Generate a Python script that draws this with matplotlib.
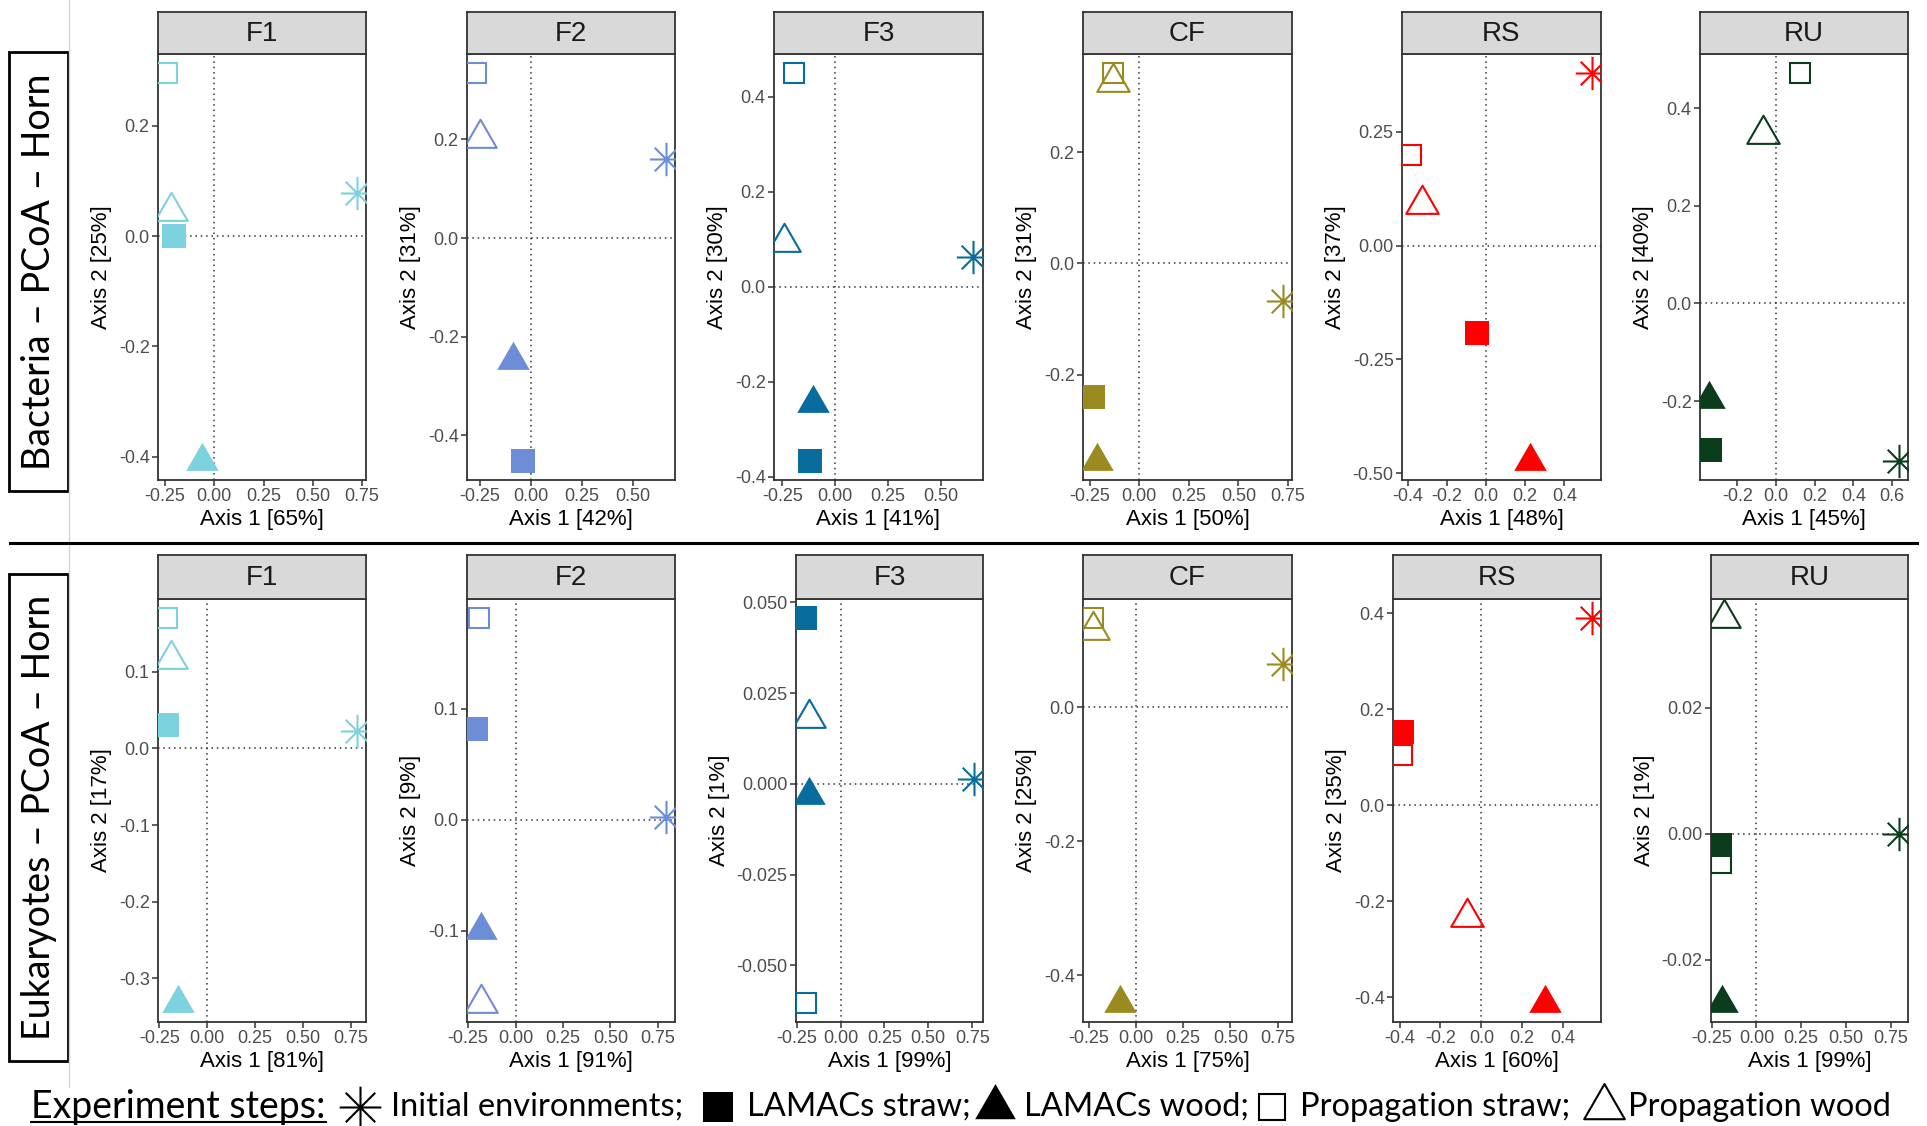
import matplotlib
matplotlib.use('Agg')
import matplotlib.pyplot as plt
from matplotlib.path import Path
from matplotlib.patches import Rectangle
import numpy as np

# ---- data -------------------------------------------------------------
panels = ["F1", "F2", "F3", "CF", "RS", "RU"]
colors = ["#7DD2DF", "#6D8ED6", "#086C9C", "#9A8A20", "#FF0000", "#0B3D1D"]
steps = ["Initial environments", "LAMACs straw", "LAMACs wood",
         "Propagation straw", "Propagation wood"]

# point order in every panel: initial, LAMACs straw, LAMACs wood, prop straw, prop wood
bac_axis1 = [[0.722, -0.207, -0.064, -0.238, -0.220],
             [0.662, -0.037, -0.090, -0.268, -0.250],
             [0.655, -0.120, -0.103, -0.193, -0.245],
             [0.723, -0.236, -0.215, -0.132, -0.132],
             [0.541, -0.045, 0.223, -0.383, -0.325],
             [0.634, -0.340, -0.344, 0.124, -0.066]]
bac_axis2 = [[0.078, 0.000, -0.407, 0.295, 0.046],
             [0.161, -0.451, -0.247, 0.334, 0.203],
             [0.063, -0.366, -0.245, 0.449, 0.095],
             [-0.067, -0.241, -0.355, 0.342, 0.326],
             [0.3785, -0.193, -0.4725, 0.199, 0.092],
             [-0.322, -0.300, -0.195, 0.471, 0.347]]
euk_axis1 = [[0.780, -0.208, -0.152, -0.208, -0.190],
             [0.790, -0.206, -0.181, -0.195, -0.181],
             [0.763, -0.205, -0.182, -0.195, -0.182],
             [0.776, np.nan, -0.084, -0.230, -0.225],
             [0.539, -0.386, 0.313, -0.386, -0.070],
             [0.795, -0.203, -0.189, -0.196, -0.182]]
euk_axis2 = [[0.023, 0.030, -0.332, 0.170, 0.117],
             [0.0027, 0.0817, -0.0988, 0.1817, -0.1647],
             [0.0014, 0.0456, -0.003, -0.0603, 0.0182],
             [0.065, np.nan, -0.4413, 0.1329, 0.115],
             [0.390, 0.152, -0.411, 0.105, -0.233],
             [0.000, -0.0017, -0.0268, -0.0046, 0.0342]]

bac_pct1 = [65, 42, 41, 50, 48, 45]
bac_pct2 = [25, 31, 30, 31, 37, 40]
euk_pct1 = [81, 91, 99, 75, 60, 99]
euk_pct2 = [17, 9, 1, 25, 35, 1]

bac_xticks = [[-0.25, 0, 0.25, 0.5, 0.75], [-0.25, 0, 0.25, 0.5], [-0.25, 0, 0.25, 0.5],
              [-0.25, 0, 0.25, 0.5, 0.75], [-0.4, -0.2, 0, 0.2, 0.4], [-0.2, 0, 0.2, 0.4, 0.6]]
bac_yticks = [[-0.4, -0.2, 0, 0.2], [-0.4, -0.2, 0, 0.2], [-0.4, -0.2, 0, 0.2, 0.4],
              [-0.2, 0, 0.2], [-0.5, -0.25, 0, 0.25], [-0.2, 0, 0.2, 0.4]]
euk_xticks = [[-0.25, 0, 0.25, 0.5, 0.75]] * 4 + [[-0.4, -0.2, 0, 0.2, 0.4],
                                                   [-0.25, 0, 0.25, 0.5, 0.75]]
euk_yticks = [[-0.3, -0.2, -0.1, 0, 0.1], [-0.1, 0, 0.1],
              [-0.05, -0.025, 0, 0.025, 0.05], [-0.4, -0.2, 0],
              [-0.4, -0.2, 0, 0.2, 0.4], [-0.02, 0, 0.02]]

# ---- markers (ggplot shapes 8, 15, 17, 0, 2) ---------------------------
ang = np.deg2rad([0, 45, 90, 135])
star_verts = []
for a in ang:
    star_verts += [(-np.cos(a), -np.sin(a)), (np.cos(a), np.sin(a))]
star = Path(star_verts, [Path.MOVETO, Path.LINETO] * 4)
tri = Path([(0, 1), (-0.866, -0.5), (0.866, -0.5), (0, 1)],
           [Path.MOVETO, Path.LINETO, Path.LINETO, Path.CLOSEPOLY])

W, H = 1927, 1126
fig = plt.figure(figsize=(W / 100, H / 100), dpi=100)
plt.rcParams['font.family'] = ['Liberation Sans', 'DejaVu Sans']

bg = fig.add_axes([0, 0, 1, 1])
bg.set_xlim(0, W)
bg.set_ylim(H, 0)
bg.axis('off')


def fmt(ticks):
    d = 0
    while any(abs(round(t, d) - t) > 1e-9 for t in ticks):
        d += 1
    return ["%.*f" % (d, t) for t in ticks]


def marker_style(i, col, legend=False):
    k = 1.25 if legend else 1.0
    if i == 0:
        return dict(marker=star, ms=24 * k, mfc='none', mec=col, mew=1.5)
    if i == 1:
        return dict(marker='s', ms=17 * k, mfc=col, mec=col, mew=0)
    if i == 2:
        return dict(marker=tri, ms=27 * k, mfc=col, mec=col, mew=0)
    if i == 3:
        return dict(marker='s', ms=15 * k, mfc='none', mec=col, mew=1.5)
    return dict(marker=tri, ms=27 * k, mfc='none', mec=col, mew=1.5)


def draw_panel(box, strip_top, name, col, xs, ys, xt, yt, p1, p2):
    x0, x1, y0, y1 = box
    ax = fig.add_axes([x0 / W, 1 - y1 / H, (x1 - x0) / W, (y1 - y0) / H])
    sx = fig.add_axes([x0 / W, 1 - y0 / H, (x1 - x0) / W, (y0 - strip_top) / H])
    sx.set_facecolor('#D9D9D9')
    sx.set_xticks([])
    sx.set_yticks([])
    for s in sx.spines.values():
        s.set_color('#333333')
        s.set_linewidth(1.3)
    sx.text(0.5, 0.47, name, ha='center', va='center', fontsize=20,
            color='#1A1A1A', transform=sx.transAxes)

    ax.axhline(0, color='#333333', ls=(0, (1, 2.5)), lw=1.1, zorder=1)
    ax.axvline(0, color='#333333', ls=(0, (1, 2.5)), lw=1.1, zorder=1)
    for i in range(5):
        if np.isnan(xs[i]):
            continue
        ax.plot([xs[i]], [ys[i]], ls='none', zorder=3, **marker_style(i, col))

    vx = [v for v in xs if not np.isnan(v)]
    vy = [v for v in ys if not np.isnan(v)]
    rx = max(vx) - min(vx)
    ry = max(vy) - min(vy)
    ax.set_xlim(min(vx) - 0.05 * rx, max(vx) + 0.05 * rx)
    ax.set_ylim(min(vy) - 0.05 * ry, max(vy) + 0.05 * ry)
    ax.set_xticks(xt)
    ax.set_xticklabels(fmt(xt))
    ax.set_yticks(yt)
    ax.set_yticklabels(fmt(yt))
    ax.tick_params(direction='out', length=4, width=1.1, color='#333333',
                   labelsize=13, labelcolor='#4D4D4D', pad=2)
    for s in ax.spines.values():
        s.set_color('#333333')
        s.set_linewidth(1.3)
    ax.set_xlabel("Axis 1 [%d%%]" % p1, fontsize=16, labelpad=3)
    ax.set_ylabel("Axis 2 [%d%%]" % p2, fontsize=16, labelpad=5)


top_x = [(158, 366), (467, 675), (774, 983), (1083, 1292), (1402, 1601), (1700, 1908)]
bot_x = [(158, 366), (467, 675), (796, 983), (1083, 1292), (1393, 1601), (1711, 1908)]

for j in range(6):
    draw_panel((top_x[j][0], top_x[j][1], 54, 480), 12, panels[j], colors[j],
               bac_axis1[j], bac_axis2[j], bac_xticks[j], bac_yticks[j],
               bac_pct1[j], bac_pct2[j])
    draw_panel((bot_x[j][0], bot_x[j][1], 599, 1022), 555, panels[j], colors[j],
               euk_axis1[j], euk_axis2[j], euk_xticks[j], euk_yticks[j],
               euk_pct1[j], euk_pct2[j])

# ---- frame, separators and row labels ----------------------------------
bg.plot([69, 69], [0, 1087], color='#D4D4D4', lw=1)
bg.plot([10, 1917], [543, 543], color='black', lw=2.2)
lab_font = ['Lato', 'DejaVu Sans']
for (ya, yb), txt in [((52, 491), "Bacteria – PCoA – Horn"),
                      ((574, 1061), "Eukaryotes – PCoA – Horn")]:
    bg.add_patch(Rectangle((9, ya), 59, yb - ya, fill=False, ec='black', lw=2))
    bg.text(39, (ya + yb) / 2, txt, rotation=90, ha='center', va='center',
            fontsize=27, family=lab_font)

# ---- legend row ----------------------------------------------------------
ly = 1107
t = bg.text(31, ly, "Experiment steps:", ha='left', va='center', fontsize=27,
            family=lab_font)
fig.canvas.draw()
bb = t.get_window_extent().transformed(bg.transData.inverted())
bg.plot([bb.x0, bb.x1], [1122, 1122], color='black', lw=1.5)

leg_marker_x = [360, 718, 995, 1272, 1604]
leg_text_x = [391, 747, 1024, 1300, 1628]
leg_labels = [s + ";" for s in steps[:4]] + [steps[4]]
for i in range(5):
    bg.plot([leg_marker_x[i]], [ly], ls='none', clip_on=False,
            **marker_style(i, 'black', legend=True))
    bg.text(leg_text_x[i], ly, leg_labels[i], ha='left', va='center',
            fontsize=23.5, family=lab_font)

fig.savefig('out.png', dpi=100)
